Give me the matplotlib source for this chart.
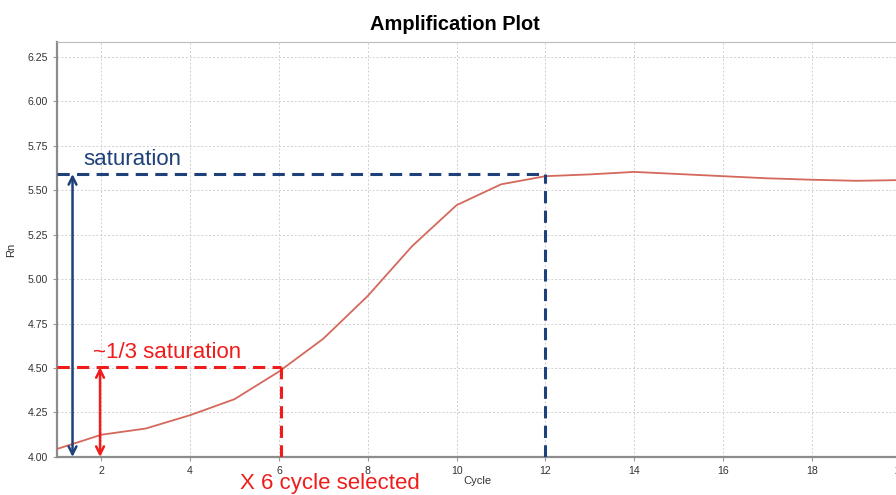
import matplotlib
matplotlib.use("Agg")
import matplotlib.pyplot as plt

plt.rcParams['font.family'] = ['Liberation Sans', 'DejaVu Sans']

# amplification curve
cycles = [1, 2, 3, 4, 5, 6, 7, 8, 9, 10, 11, 12, 13, 14, 15, 16, 17, 18, 19, 20, 21]
rn = [4.045, 4.125, 4.16, 4.235, 4.325, 4.48, 4.665, 4.905, 5.185, 5.415, 5.532, 5.578,
      5.588, 5.602, 5.59, 5.578, 5.566, 5.558, 5.552, 5.556, 5.56]

x_ticks = [2, 4, 6, 8, 10, 12, 14, 16, 18, 20]
y_ticks = [4.00, 4.25, 4.50, 4.75, 5.00, 5.25, 5.50, 5.75, 6.00, 6.25]

# annotation levels
sat_level = 5.59
sat_cycle = 12
third_level = 4.505
sel_cycle = 6.05
blue_arrow_x = 1.35
red_arrow_x = 1.97

navy = "#1d4178"
red = "#f01c1c"

fig = plt.figure(figsize=(8.96, 4.95), dpi=100)
ax = fig.add_axes([0.0636, 0.0768, 0.991, 0.838])

ax.plot(cycles, rn, color="#d4685c", lw=1.3, zorder=3)

ax.set_xlim(1, 21)
ax.set_ylim(4.0, 6.331)
ax.set_xticks(x_ticks)
ax.set_yticks(y_ticks)
ax.set_yticklabels([f"{v:.2f}" for v in y_ticks])
ax.tick_params(labelsize=7.6, colors="#333333", length=3, color="#999999")
ax.grid(True, color="#d0d0d0", ls=(0, (2, 2)), lw=0.7)
for s in ["left", "bottom"]:
    ax.spines[s].set_color("#8c8c8c")
    ax.spines[s].set_linewidth(1.6)
ax.spines["right"].set_visible(False)
ax.spines["top"].set_color("#bbbbbb")
ax.spines["top"].set_linewidth(0.8)

ax.set_xlabel("Cycle", fontsize=8, color="#333333")
ax.xaxis.set_label_coords((477 - 57) / 888, -0.045)
ax.set_ylabel("Rn", fontsize=8, color="#333333")
ax.yaxis.set_label_coords(-0.046, 0.5)

fig.text(455 / 896, 1 - 24 / 495, "Amplification Plot", fontsize=14.4, fontweight="bold",
         ha="center", va="center")

# saturation guides
dash = (0, (4, 2.4))
ax.plot([1, sat_cycle], [sat_level, sat_level], color=navy, lw=2.2, ls=dash, zorder=4)
ax.plot([sat_cycle, sat_cycle], [4.0, sat_level], color=navy, lw=2.2, ls=dash, zorder=4)
ax.annotate("", xy=(blue_arrow_x, sat_level), xytext=(blue_arrow_x, 4.0),
            arrowprops=dict(arrowstyle="<->", color=navy, lw=1.8, shrinkA=0, shrinkB=0,
                            mutation_scale=14))
ax.text(1.6, 5.61, "saturation", color=navy, fontsize=16, ha="left", va="bottom")

# third of saturation guides
ax.plot([1, sel_cycle], [third_level, third_level], color=red, lw=2.2, ls=dash, zorder=4)
ax.plot([sel_cycle, sel_cycle], [4.0, third_level], color=red, lw=2.2, ls=dash, zorder=4)
ax.annotate("", xy=(red_arrow_x, third_level), xytext=(red_arrow_x, 4.0),
            arrowprops=dict(arrowstyle="<->", color=red, lw=1.8, shrinkA=0, shrinkB=0,
                            mutation_scale=14))
ax.text(1.82, 4.53, "~1/3 saturation", color=red, fontsize=16, ha="left", va="bottom")

fig.text(240 / 896, 1 - 489.5 / 495, "X 6 cycle selected", color=red, fontsize=16,
         ha="left", va="baseline")

fig.savefig("out.png", dpi=100)
